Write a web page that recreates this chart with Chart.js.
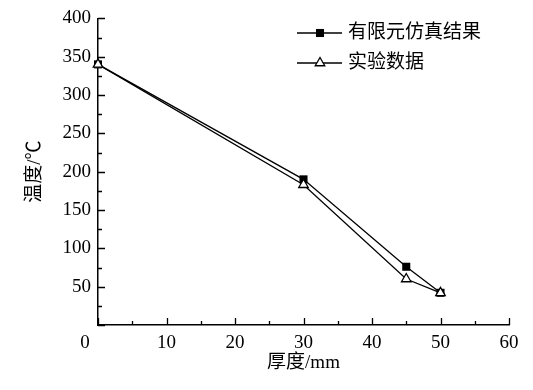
<!DOCTYPE html>
<html>
  <head>
    <title>温度-厚度</title>
    <script src="https://cdn.jsdelivr.net/npm/chart.js"></script>
    <style>
      body { margin: 0; background: #fff; }
      canvas { display: block; }
    </style>
  </head>
  <body>
    <canvas id="tempChart" width="533" height="390"></canvas>
    <script>
      // 数据
      var thickness = [0, 30, 45, 50];
      var simValues = [340, 190, 76, 42];
      var expValues = [340, 183, 60, 42];
      var seriesNames = ['有限元仿真结果', '实验数据'];
      var xTitle = '厚度/mm';
      var yTitle = '温度/℃';

      var serif = "'Liberation Serif', 'Noto Sans CJK SC', serif";

      function toPoints(xs, ys) {
        return xs.map(function(x, i) { return {x: x, y: ys[i]}; });
      }

      // 向内的刻度线（主刻度长，次刻度短）
      var innerTicks = {
        id: 'innerTicks',
        afterDraw: function(chart) {
          var ctx = chart.ctx;
          var xs = chart.scales.x, ys = chart.scales.y;
          ctx.save();
          ctx.strokeStyle = '#000';
          ctx.lineWidth = 1.3;
          ctx.beginPath();
          xs.ticks.forEach(function(t) {
            var px = Math.round(xs.getPixelForValue(t.value)) + 0.5;
            var len = t.value % 10 === 0 ? 7 : 4;
            ctx.moveTo(px, ys.bottom);
            ctx.lineTo(px, ys.bottom - len);
          });
          ys.ticks.forEach(function(t) {
            var py = Math.round(ys.getPixelForValue(t.value)) + 0.5;
            var len = t.value % 50 === 0 ? 7 : 4;
            ctx.moveTo(xs.left, py);
            ctx.lineTo(xs.left + len, py);
          });
          ctx.stroke();
          // 左下角的 0
          ctx.fillStyle = '#000';
          ctx.font = '19px ' + serif;
          ctx.textAlign = 'center';
          ctx.textBaseline = 'middle';
          ctx.fillText('0', xs.left - 13, ys.bottom + 18);
          ctx.restore();
        }
      };

      // 图例：线段 + 标记 + 文字
      var lineLegend = {
        id: 'lineLegend',
        afterDraw: function(chart) {
          var ctx = chart.ctx;
          ctx.save();
          chart.data.datasets.forEach(function(ds, i) {
            var y = 33 + i * 30;
            ctx.strokeStyle = '#000';
            ctx.lineWidth = 1.3;
            ctx.beginPath();
            ctx.moveTo(297, y);
            ctx.lineTo(342, y);
            ctx.stroke();
            var cx = 320, r = ds.pointRadius;
            if (ds.pointStyle === 'rect') {
              var s = r / Math.SQRT2;
              ctx.fillStyle = '#000';
              ctx.fillRect(cx - s, y - s, 2 * s, 2 * s);
            } else {
              ctx.beginPath();
              ctx.moveTo(cx, y - r);
              ctx.lineTo(cx + r * 0.866, y + r / 2);
              ctx.lineTo(cx - r * 0.866, y + r / 2);
              ctx.closePath();
              ctx.fillStyle = '#fff';
              ctx.fill();
              ctx.stroke();
            }
            ctx.fillStyle = '#000';
            ctx.font = '19px ' + serif;
            ctx.textAlign = 'left';
            ctx.textBaseline = 'middle';
            ctx.fillText(ds.label, 348, y);
          });
          ctx.restore();
        }
      };

      new Chart(document.getElementById('tempChart').getContext('2d'), {
        type: 'line',
        data: {
          datasets: [{
            label: seriesNames[0],
            data: toPoints(thickness, simValues),
            borderColor: '#000',
            borderWidth: 1.3,
            pointStyle: 'rect',
            pointRadius: 5.7,
            pointBackgroundColor: '#000',
            pointBorderColor: '#000',
            pointBorderWidth: 0,
            order: 1,
            clip: false
          }, {
            label: seriesNames[1],
            data: toPoints(thickness, expValues),
            borderColor: '#000',
            borderWidth: 1.3,
            pointStyle: 'triangle',
            pointRadius: 5.5,
            pointBackgroundColor: '#fff',
            pointBorderColor: '#000',
            pointBorderWidth: 1.3,
            order: 0,
            clip: false
          }]
        },
        options: {
          responsive: false,
          animation: false,
          devicePixelRatio: 1,
          layout: { padding: { top: 17, right: 24, left: 0, bottom: 0 } },
          plugins: {
            legend: { display: false },
            tooltip: { enabled: false }
          },
          scales: {
            x: {
              type: 'linear',
              min: 0,
              max: 60,
              afterFit: function(s) { s.height = 65; },
              ticks: {
                stepSize: 5,
                color: '#000',
                padding: 7,
                maxRotation: 0,
                autoSkip: false,
                font: { family: serif, size: 19 },
                callback: function(v) { return (v % 10 === 0 && v !== 0) ? v : ''; }
              },
              grid: { display: true, drawOnChartArea: false, drawTicks: false },
              border: { display: true, color: '#000', width: 1.5 },
              title: {
                display: true,
                text: xTitle,
                color: '#000',
                font: { family: serif, size: 19 },
                padding: { top: 0, bottom: 16 }
              }
            },
            y: {
              min: 0,
              max: 400,
              afterFit: function(s) { s.width = 98; },
              ticks: {
                stepSize: 25,
                color: '#000',
                padding: 7,
                autoSkip: false,
                font: { family: serif, size: 19 },
                callback: function(v) { return (v % 50 === 0 && v !== 0) ? v : ''; }
              },
              grid: { display: true, drawOnChartArea: false, drawTicks: false },
              border: { display: true, color: '#000', width: 1.5 },
              title: {
                display: true,
                text: yTitle,
                color: '#000',
                font: { family: serif, size: 19 },
                padding: { top: 24, bottom: 0 }
              }
            }
          }
        },
        plugins: [innerTicks, lineLegend]
      });
    </script>
  </body>
</html>
